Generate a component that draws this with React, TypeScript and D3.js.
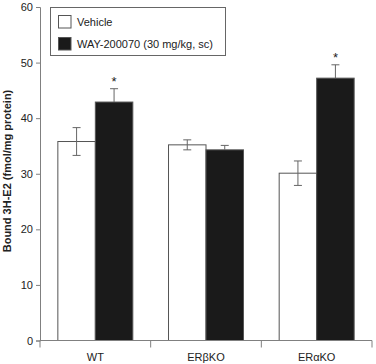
import React, { useRef, useEffect } from 'react';
import * as d3 from 'd3';

const groups = ['WT', 'ERβKO', 'ERαKO'];
const series = ['Vehicle', 'WAY-200070 (30 mg/kg, sc)'];
const vehicleMeans = [35.8, 35.2, 30.1];
const vehicleErr = [2.5, 0.9, 2.2];
const wayMeans = [42.9, 34.3, 47.2];
const wayErr = [2.4, 0.8, 2.4];
const significant = [true, false, true];
const yTicks = [0, 10, 20, 30, 40, 50, 60];

const App = () => {
  const svgRef = useRef<SVGSVGElement>(null);

  useEffect(() => {
    const svg = d3.select(svgRef.current);
    svg.selectAll('*').remove();

    const width = 376;
    const height = 364;
    const margin = { top: 7, right: 4, bottom: 23.5, left: 40 };
    const font = '"Liberation Sans", Arial, sans-serif';
    const axisColor = '#808080';

    svg.attr('width', width).attr('height', height);

    const x = d3
      .scaleBand()
      .domain(groups)
      .range([margin.left, width - margin.right])
      .padding(0);

    // bars in a group take ~75px of a ~111px band
    const inner = d3
      .scaleBand()
      .domain(series)
      .range([0, x.bandwidth()])
      .paddingOuter(0.476)
      .paddingInner(0);

    const y = d3
      .scaleLinear()
      .domain([0, 60])
      .range([height - margin.bottom, margin.top]);

    const g = svg.append('g').style('font-family', font);

    // Bars with error bars
    groups.forEach((grp, i) => {
      const rows = [
        { s: series[0], v: vehicleMeans[i], e: vehicleErr[i], fill: '#ffffff' },
        { s: series[1], v: wayMeans[i], e: wayErr[i], fill: '#1a1a1a' },
      ];
      rows.forEach((r) => {
        const bx = (x(grp) as number) + (inner(r.s) as number);
        const bw = inner.bandwidth();
        g.append('rect')
          .attr('x', bx)
          .attr('y', y(r.v))
          .attr('width', bw)
          .attr('height', y(0) - y(r.v))
          .attr('fill', r.fill)
          .attr('stroke', '#555')
          .attr('stroke-width', 1);

        const cx = bx + bw / 2;
        const lo = r.fill === '#ffffff' ? r.v - r.e : r.v;
        g.append('line')
          .attr('x1', cx)
          .attr('x2', cx)
          .attr('y1', y(r.v + r.e))
          .attr('y2', y(lo))
          .attr('stroke', '#666')
          .attr('stroke-width', 1);
        g.append('line')
          .attr('x1', cx - 4)
          .attr('x2', cx + 4)
          .attr('y1', y(r.v + r.e))
          .attr('y2', y(r.v + r.e))
          .attr('stroke', '#666');
        if (r.fill === '#ffffff') {
          g.append('line')
            .attr('x1', cx - 4)
            .attr('x2', cx + 4)
            .attr('y1', y(r.v - r.e))
            .attr('y2', y(r.v - r.e))
            .attr('stroke', '#666');
        }
        if (r.fill !== '#ffffff' && significant[i]) {
          g.append('text')
            .attr('x', cx)
            .attr('y', y(r.v + r.e) - 3)
            .attr('text-anchor', 'middle')
            .style('font-size', '13px')
            .attr('fill', '#222')
            .text('*');
        }
      });
    });

    // Y axis
    const yAxis = g
      .append('g')
      .attr('transform', `translate(${margin.left},0)`)
      .call(d3.axisLeft(y).tickValues(yTicks).tickSize(4).tickPadding(3));
    yAxis.select('.domain').attr('stroke', axisColor);
    yAxis.selectAll('line').attr('stroke', axisColor);
    yAxis
      .selectAll('text')
      .style('font-family', font)
      .style('font-size', '11px')
      .attr('fill', '#222');

    // X axis
    const xAxisG = g.append('g').attr('transform', `translate(0,${y(0)})`);
    xAxisG
      .append('line')
      .attr('x1', margin.left)
      .attr('x2', width - margin.right)
      .attr('stroke', axisColor);
    const edges = [...groups.map((d) => x(d) as number), width - margin.right];
    edges.forEach((ex) => {
      xAxisG
        .append('line')
        .attr('x1', ex)
        .attr('x2', ex)
        .attr('y1', 0)
        .attr('y2', 7)
        .attr('stroke', axisColor);
    });
    groups.forEach((grp) => {
      xAxisG
        .append('text')
        .attr('x', (x(grp) as number) + x.bandwidth() / 2)
        .attr('y', 20)
        .attr('text-anchor', 'middle')
        .style('font-size', '11px')
        .attr('fill', '#222')
        .text(grp);
    });

    // Y label
    g.append('text')
      .attr('transform', `translate(11,171) rotate(-90)`)
      .attr('text-anchor', 'middle')
      .style('font-size', '11px')
      .style('font-weight', 'bold')
      .attr('fill', '#222')
      .text('Bound 3H-E2 (fmol/mg protein)');

    // Legend
    const legend = g.append('g');
    legend
      .append('rect')
      .attr('x', 50.5)
      .attr('y', 7.5)
      .attr('width', 175)
      .attr('height', 48)
      .attr('fill', '#fff')
      .attr('stroke', '#666');
    series.forEach((s, i) => {
      legend
        .append('rect')
        .attr('x', 58.5)
        .attr('y', 15.5 + i * 22)
        .attr('width', 12.5)
        .attr('height', 12.5)
        .attr('fill', i === 0 ? '#fff' : '#1a1a1a')
        .attr('stroke', '#555');
      legend
        .append('text')
        .attr('x', 77)
        .attr('y', 26 + i * 22)
        .style('font-size', '11px')
        .attr('fill', '#222')
        .text(s);
    });
  }, []);

  return <svg ref={svgRef} style={{ position: 'absolute', left: 0, top: 0 }} />;
};

export default App;
